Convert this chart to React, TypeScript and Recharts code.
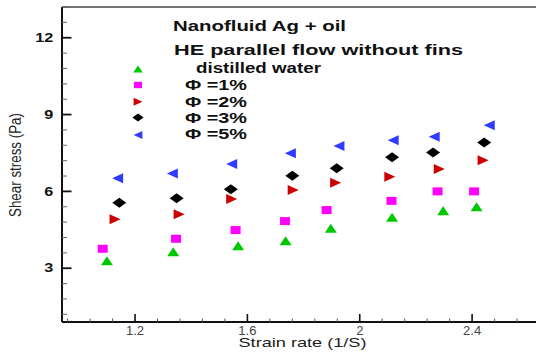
import React from 'react';
import { ScatterChart, Scatter, XAxis, YAxis, ReferenceLine, Legend } from 'recharts';

const FONT = '"Liberation Sans", Arial, sans-serif';

// strain rate (1/S) and shear stress (Pa)
const strainWater = [1.1, 1.336, 1.567, 1.736, 1.897, 2.115, 2.297, 2.416];
const stressWater = [3.29, 3.64, 3.88, 4.07, 4.56, 4.99, 5.24, 5.4];
const strain1 = [1.085, 1.346, 1.558, 1.734, 1.882, 2.113, 2.277, 2.407];
const stress1 = [3.76, 4.15, 4.49, 4.84, 5.27, 5.63, 6.0, 6.0];
const strain2 = [1.129, 1.357, 1.544, 1.763, 1.914, 2.107, 2.283, 2.439];
const stress2 = [4.91, 5.11, 5.7, 6.05, 6.34, 6.57, 6.87, 7.22];
const strain3 = [1.144, 1.348, 1.541, 1.76, 1.918, 2.115, 2.261, 2.443];
const stress3 = [5.56, 5.73, 6.08, 6.61, 6.9, 7.33, 7.52, 7.91];
const strain5 = [1.138, 1.333, 1.544, 1.753, 1.926, 2.119, 2.265, 2.461];
const stress5 = [6.51, 6.7, 7.07, 7.49, 7.77, 8.0, 8.13, 8.58];

const legendLabels = ['distilled water', 'Φ =1%', 'Φ =2%', 'Φ =3%', 'Φ =5%'];

const xTicks = [0.96, 1.04, 1.12, 1.2, 1.28, 1.36, 1.44, 1.52, 1.6, 1.68, 1.76, 1.84, 1.92, 2, 2.08, 2.16, 2.24, 2.32, 2.4, 2.48, 2.56, 2.64, 2.72];
const xMajor = [1.2, 1.6, 2, 2.4];
const yTicks = [1.2, 1.8, 2.4, 3, 3.6, 4.2, 4.8, 5.4, 6, 6.6, 7.2, 7.8, 8.4, 9, 9.6, 10.2, 10.8, 11.4, 12, 12.6, 13.2];
const yMajor = [3, 6, 9, 12];

const toPoints = (xs: number[], ys: number[]) => xs.map((x, i) => ({ x, y: ys[i] }));
const isMajor = (list: number[], v: number) => list.some((m) => Math.abs(m - v) < 1e-6);

type Kind = 'up' | 'square' | 'right' | 'diamond' | 'left';

const SIZES: Record<Kind, [number, number]> = {
  up: [12, 9],
  square: [10, 8],
  right: [11, 10],
  diamond: [14, 10],
  left: [11, 10],
};

function marker(kind: Kind, cx: number, cy: number, color: string, k = 1) {
  const [w0, h0] = SIZES[kind];
  const w = (w0 * k) / 2;
  const h = (h0 * k) / 2;
  let pts = '';
  if (kind === 'up') pts = `${cx},${cy - h} ${cx + w},${cy + h} ${cx - w},${cy + h}`;
  if (kind === 'square') pts = `${cx - w},${cy - h} ${cx + w},${cy - h} ${cx + w},${cy + h} ${cx - w},${cy + h}`;
  if (kind === 'right') pts = `${cx - w},${cy - h} ${cx + w},${cy} ${cx - w},${cy + h}`;
  if (kind === 'left') pts = `${cx + w},${cy - h} ${cx - w},${cy} ${cx + w},${cy + h}`;
  if (kind === 'diamond') pts = `${cx},${cy - h} ${cx + w},${cy} ${cx},${cy + h} ${cx - w},${cy}`;
  return <polygon points={pts} fill={color} />;
}

const SERIES: { name: string; data: { x: number; y: number }[]; color: string; kind: Kind }[] = [
  { name: legendLabels[0], data: toPoints(strainWater, stressWater), color: '#00c800', kind: 'up' },
  { name: legendLabels[1], data: toPoints(strain1, stress1), color: '#ff00ff', kind: 'square' },
  { name: legendLabels[2], data: toPoints(strain2, stress2), color: '#cc0000', kind: 'right' },
  { name: legendLabels[3], data: toPoints(strain3, stress3), color: '#000000', kind: 'diamond' },
  { name: legendLabels[4], data: toPoints(strain5, stress5), color: '#2f3cff', kind: 'left' },
];

const XTick = ({ x, y, payload }: any) => {
  const major = isMajor(xMajor, payload.value);
  return (
    <g>
      <line x1={x} y1={y} x2={x} y2={y - (major ? 8 : 3.5)} stroke={major ? '#111' : '#555'} strokeWidth={major ? 1.6 : 1} />
      {major && (
        <text x={x} y={y + 13} textAnchor="middle" fontSize={13} fontFamily={FONT} fill="#444">
          {payload.value}
        </text>
      )}
    </g>
  );
};

const YTick = ({ x, y, payload }: any) => {
  const major = isMajor(yMajor, payload.value);
  return (
    <g>
      <line x1={x} y1={y} x2={x + (major ? 9.5 : 5)} y2={y} stroke={major ? '#111' : '#666'} strokeWidth={major ? 1.8 : 1} />
      {major && (
        <text
          transform={`translate(${x - 8.8},${y + 4.2}) scale(1.35,1)`}
          textAnchor="end"
          fontSize={12}
          fontWeight="bold"
          fontFamily={FONT}
          fill="#111"
        >
          {payload.value}
        </text>
      )}
    </g>
  );
};

// legend rows: symbol centre y, text left x, text baseline, text width
const legendRows = [
  { sy: 69, tx: 196, ty: 73.3, tw: 125 },
  { sy: 85, tx: 185, ty: 90, tw: 62 },
  { sy: 101.7, tx: 185, ty: 106.5, tw: 62 },
  { sy: 117.5, tx: 185, ty: 122.8, tw: 62 },
  { sy: 135, tx: 185, ty: 139, tw: 62 },
];

const LegendBox = () => (
  <svg width={536} height={356} style={{ position: 'absolute', left: 0, top: 0 }}>
    <g fontFamily={FONT} fontWeight="bold" fill="#111">
      <text x={173} y={30.5} fontSize={15} textLength={173} lengthAdjust="spacingAndGlyphs">
        Nanofluid Ag + oil
      </text>
      <text x={174} y={54.5} fontSize={15} textLength={289} lengthAdjust="spacingAndGlyphs">
        HE parallel flow without fins
      </text>
      {SERIES.map((s, i) => (
        <g key={s.name}>
          {marker(s.kind, 138, legendRows[i].sy, s.color, 0.8)}
          <text x={legendRows[i].tx} y={legendRows[i].ty} fontSize={14} textLength={legendRows[i].tw} lengthAdjust="spacingAndGlyphs">
            {s.name}
          </text>
        </g>
      ))}
    </g>
    <text x={238.5} y={346.7} fontSize={13} fontFamily={FONT} fill="#222" textLength={128} lengthAdjust="spacingAndGlyphs">
      Strain rate (1/S)
    </text>
    <text
      transform="translate(20.5,165) rotate(-90) scale(1.03,1.2)"
      textAnchor="middle"
      fontSize={13}
      fontFamily={FONT}
      fill="#222"
    >
      Shear stress (Pa)
    </text>
  </svg>
);

export default function App() {
  return (
    <div style={{ position: 'fixed', left: 0, top: 0, width: 536, height: 356, overflow: 'hidden', background: '#fff' }}>
      <ScatterChart width={564} height={356} margin={{ top: 7, right: 2, bottom: 0, left: 0 }}>
        <XAxis
          type="number"
          dataKey="x"
          domain={[0.94, 2.72]}
          ticks={xTicks}
          interval={0}
          height={34}
          tickSize={0}
          tickMargin={0}
          tickLine={false}
          tick={<XTick />}
          axisLine={{ stroke: '#111', strokeWidth: 2 }}
        />
        <YAxis
          type="number"
          dataKey="y"
          domain={[0.9, 13.2]}
          ticks={yTicks}
          interval={0}
          width={62}
          tickSize={0}
          tickMargin={0}
          tickLine={false}
          tick={<YTick />}
          axisLine={{ stroke: '#111', strokeWidth: 2 }}
        />
        <ReferenceLine y={13.2} stroke="#444" strokeWidth={1.5} />
        {SERIES.map((s) => (
          <Scatter
            key={s.name}
            name={s.name}
            data={s.data}
            fill={s.color}
            isAnimationActive={false}
            shape={(p: any) => marker(s.kind, p.cx, p.cy, s.color)}
          />
        ))}
        <Legend
          layout="vertical"
          align="center"
          verticalAlign="middle"
          wrapperStyle={{ position: 'absolute', left: 0, top: 0, width: 536, height: 356, pointerEvents: 'none' }}
          content={() => <LegendBox />}
        />
      </ScatterChart>
    </div>
  );
}
